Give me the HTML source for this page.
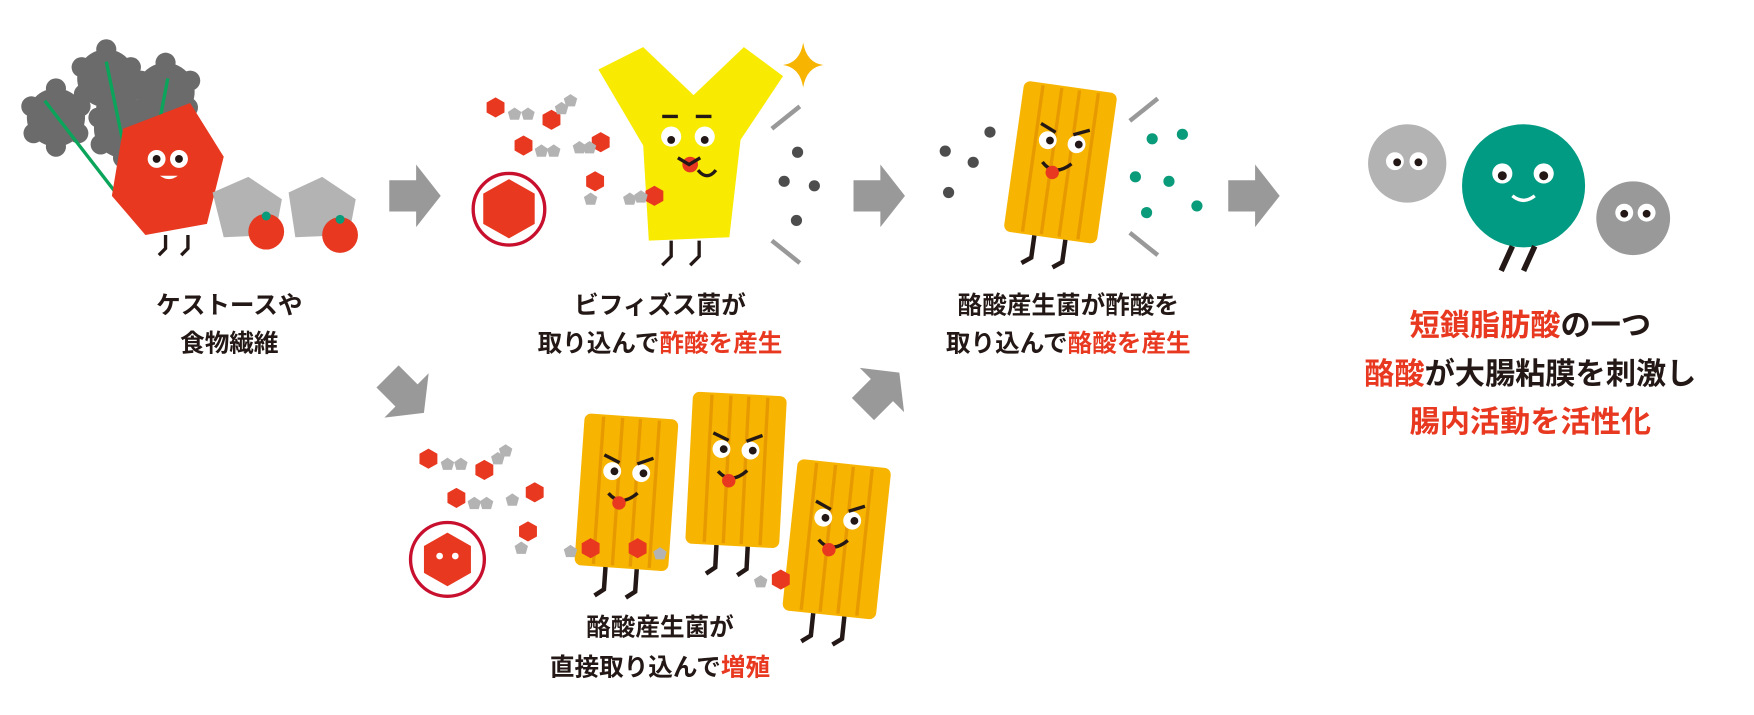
<!DOCTYPE html>
<html><head><meta charset="utf-8"><style>
html,body{margin:0;padding:0;background:#fff;}
svg{display:block}
text{font-family:"Liberation Sans","Noto Sans CJK JP",sans-serif;font-weight:bold;fill:#231815;text-anchor:middle}
.r{fill:#e83820}
</style></head><body>
<svg width="1754" height="715" viewBox="0 0 1568 639" xmlns="http://www.w3.org/2000/svg">
<defs>
<g id="hex"><polygon points="0,-9 8,-4.5 8,4.5 0,9 -8,4.5 -8,-4.5" fill="#e83820"/></g>
<g id="pg"><polygon points="0,-6 6,-2 4,5 -4,5 -6,-2" fill="#b3b3b3"/></g>
<g id="ob">
<rect x="-42" y="-68" width="84" height="136" rx="6" fill="#f7b400"/>
<g stroke="#e69a00" stroke-width="3"><line x1="-25" y1="-66" x2="-25" y2="66"/><line x1="-8" y1="-66" x2="-8" y2="66"/><line x1="8" y1="-66" x2="8" y2="66"/><line x1="25" y1="-66" x2="25" y2="66"/></g>
<circle cx="-14" cy="-18" r="8" fill="#fff"/><circle cx="12" cy="-18" r="8" fill="#fff"/>
<circle cx="-12" cy="-18" r="3.5" fill="#231815"/><circle cx="14" cy="-18" r="3.5" fill="#231815"/>
<path d="M-22,-32 l14,6 M22,-32 l-14,6" stroke="#231815" stroke-width="3"/>
<path d="M-16,2 q12,12 26,-2" stroke="#231815" stroke-width="3" fill="none"/>
<circle cx="-6" cy="10" r="6" fill="#e83820"/>
<path d="M-14,68 l0,20 l-8,6 M14,68 l0,20 l-8,6" stroke="#231815" stroke-width="4" fill="none"/>
</g>
<g id="arr"><polygon points="-22,-14 2,-14 2,-28 24,0 2,28 2,14 -22,14" fill="#999"/></g>
<g id="leaf"><circle r="26"/><circle cx="-22" cy="-10" r="9"/><circle cx="22" cy="-10" r="9"/><circle cx="0" cy="-26" r="9"/><circle cx="-20" cy="14" r="9"/><circle cx="20" cy="14" r="9"/><circle cx="0" cy="26" r="9"/></g>
</defs>

<!-- left: kale + characters -->
<g fill="#6b6b6b">
<use href="#leaf" x="50" y="105"/><use href="#leaf" x="95" y="70"/><use href="#leaf" x="148" y="82"/><use href="#leaf" x="110" y="115"/>
</g>
<g stroke="#0aa55a" stroke-width="3" fill="none"><path d="M125,200 L95,55 M125,200 L150,70 M125,200 L40,90"/></g>
<polygon points="110,115 170,92 200,140 185,200 130,210 100,175" fill="#e83820"/>
<circle cx="140" cy="142" r="8" fill="#fff"/><circle cx="160" cy="142" r="8" fill="#fff"/>
<circle cx="140" cy="142" r="3.5" fill="#231815"/><circle cx="160" cy="142" r="3.5" fill="#231815"/>
<path d="M143,157 q8,6 16,0 z" fill="#fff"/>
<path d="M148,210 v12 l-6,6 M168,210 v12 l-6,6" stroke="#231815" stroke-width="3" fill="none"/>
<polygon points="190,172 222,158 252,178 246,210 200,212" fill="#b3b3b3"/>
<polygon points="258,172 288,158 318,178 312,210 264,212" fill="#b3b3b3"/>
<circle cx="238" cy="207" r="16" fill="#e83820"/><circle cx="304" cy="210" r="16" fill="#e83820"/>
<circle cx="238" cy="193" r="4" fill="#0a9b7a"/><circle cx="304" cy="196" r="4" fill="#0a9b7a"/>

<use href="#arr" x="370" y="175"/>
<use href="#arr" x="785" y="175"/>
<use href="#arr" x="1120" y="175"/>
<use href="#arr" x="362" y="352" transform="rotate(45 362 352)"/>
<use href="#arr" x="787" y="350" transform="rotate(-45 787 350)"/>

<!-- Y bifido -->
<path d="M535,62 L575,42 L620,85 L665,42 L700,68 L662,125 L652,212 L580,215 L575,130 Z" fill="#f8ea00"/>
<circle cx="600" cy="122" r="9" fill="#fff"/><circle cx="630" cy="122" r="9" fill="#fff"/>
<circle cx="600" cy="125" r="3.5" fill="#231815"/><circle cx="630" cy="125" r="3.5" fill="#231815"/>
<path d="M592,104 h14 M622,104 h14" stroke="#231815" stroke-width="3"/>
<circle cx="617" cy="147" r="7" fill="#e83820"/>
<path d="M606,141 l10,6 l10,-6 M624,152 q8,10 16,0" stroke="#231815" stroke-width="3" fill="none"/>
<path d="M600,215 v14 l-8,8 M625,215 v14 l-8,8" stroke="#231815" stroke-width="3" fill="none"/>
<path d="M718,38 q3,18 18,20 q-15,2 -18,20 q-3,-18 -18,-20 q15,-2 18,-20z" fill="#f7b400"/>
<path d="M690,115 l25,-20 M690,215 l25,20" stroke="#999" stroke-width="4"/>
<g fill="#4d4d4d"><circle cx="713" cy="136" r="5"/><circle cx="701" cy="162" r="5"/><circle cx="728" cy="166" r="5"/><circle cx="712" cy="197" r="5"/></g>
<circle cx="455" cy="187" r="32" fill="#fff" stroke="#c8102e" stroke-width="3"/>
<polygon points="455,160 478,173 478,200 455,213 432,200 432,173" fill="#e83820"/>
<use href="#hex" x="443" y="96"/><use href="#hex" x="493" y="107"/><use href="#hex" x="468" y="130"/><use href="#hex" x="537" y="127"/><use href="#hex" x="532" y="162"/><use href="#hex" x="585" y="175"/>
<use href="#pg" x="460" y="102"/><use href="#pg" x="472" y="102"/><use href="#pg" x="502" y="97"/><use href="#pg" x="510" y="90"/><use href="#pg" x="484" y="135"/><use href="#pg" x="495" y="135"/><use href="#pg" x="518" y="132"/><use href="#pg" x="527" y="132"/><use href="#pg" x="528" y="178"/><use href="#pg" x="563" y="178"/><use href="#pg" x="573" y="176"/>

<!-- middle orange -->
<use href="#ob" transform="translate(948,145) rotate(8)"/>
<path d="M1010,108 l25,-20 M1010,208 l25,20" stroke="#999" stroke-width="4"/>
<g fill="#4d4d4d"><circle cx="845" cy="135" r="5"/><circle cx="870" cy="145" r="5"/><circle cx="885" cy="118" r="5"/><circle cx="848" cy="172" r="5"/></g>
<g fill="#0a9b7a"><circle cx="1030" cy="124" r="5"/><circle cx="1057" cy="120" r="5"/><circle cx="1015" cy="158" r="5"/><circle cx="1045" cy="162" r="5"/><circle cx="1070" cy="184" r="5"/><circle cx="1025" cy="190" r="5"/></g>

<!-- right circles -->
<circle cx="1258" cy="146" r="35" fill="#b3b3b3"/>
<circle cx="1247" cy="144" r="8" fill="#fff"/><circle cx="1268" cy="144" r="8" fill="#fff"/>
<circle cx="1249" cy="145" r="3.5" fill="#231815"/><circle cx="1268" cy="145" r="3.5" fill="#231815"/>
<circle cx="1362" cy="166" r="55" fill="#009b82"/>
<circle cx="1343" cy="155" r="9" fill="#fff"/><circle cx="1380" cy="155" r="9" fill="#fff"/>
<circle cx="1343" cy="157" r="4" fill="#231815"/><circle cx="1380" cy="157" r="4" fill="#231815"/>
<path d="M1352,175 q10,8 20,0" stroke="#fff" stroke-width="3" fill="none"/>
<path d="M1352,220 l-10,22 M1372,220 l-10,22" stroke="#231815" stroke-width="5"/>
<circle cx="1460" cy="195" r="33" fill="#999"/>
<circle cx="1452" cy="190" r="8" fill="#fff"/><circle cx="1472" cy="190" r="8" fill="#fff"/>
<circle cx="1452" cy="191" r="3.5" fill="#231815"/><circle cx="1472" cy="191" r="3.5" fill="#231815"/>

<!-- bottom group -->
<use href="#ob" transform="translate(560,440) rotate(4)"/>
<use href="#ob" transform="translate(658,420) rotate(3)"/>
<use href="#ob" transform="translate(748,482) rotate(6)"/>
<circle cx="400" cy="500" r="33" fill="#fff" stroke="#c8102e" stroke-width="3"/>
<polygon points="400,476 421,488 421,512 400,524 379,512 379,488" fill="#e83820"/>
<circle cx="393" cy="497" r="3" fill="#fff"/><circle cx="407" cy="497" r="3" fill="#fff"/>
<use href="#hex" x="383" y="410"/><use href="#hex" x="433" y="420"/><use href="#hex" x="408" y="445"/><use href="#hex" x="478" y="440"/><use href="#hex" x="472" y="475"/><use href="#hex" x="528" y="490"/><use href="#hex" x="570" y="490"/><use href="#hex" x="698" y="518"/>
<use href="#pg" x="400" y="415"/><use href="#pg" x="412" y="415"/><use href="#pg" x="445" y="410"/><use href="#pg" x="452" y="403"/><use href="#pg" x="424" y="450"/><use href="#pg" x="435" y="450"/><use href="#pg" x="458" y="447"/><use href="#pg" x="466" y="490"/><use href="#pg" x="510" y="493"/><use href="#pg" x="590" y="495"/><use href="#pg" x="680" y="520"/>

<!-- text -->
<text x="205" y="280" font-size="22">ケストースや</text>
<text x="205" y="314" font-size="22">食物繊維</text>
<text x="590" y="280" font-size="22">ビフィズス菌が</text>
<text x="590" y="314" font-size="22">取り込んで<tspan class="r">酢酸を産生</tspan></text>
<text x="955" y="280" font-size="22">酪酸産生菌が酢酸を</text>
<text x="955" y="314" font-size="22">取り込んで<tspan class="r">酪酸を産生</tspan></text>
<text x="590" y="568" font-size="22">酪酸産生菌が</text>
<text x="590" y="604" font-size="22">直接取り込んで<tspan class="r">増殖</tspan></text>
<text x="1368" y="300" font-size="27"><tspan class="r">短鎖脂肪酸</tspan>の一つ</text>
<text x="1368" y="343" font-size="27"><tspan class="r">酪酸</tspan>が大腸粘膜を刺激し</text>
<text x="1368" y="386" font-size="27" class="r">腸内活動を活性化</text>
</svg>
</body></html>
